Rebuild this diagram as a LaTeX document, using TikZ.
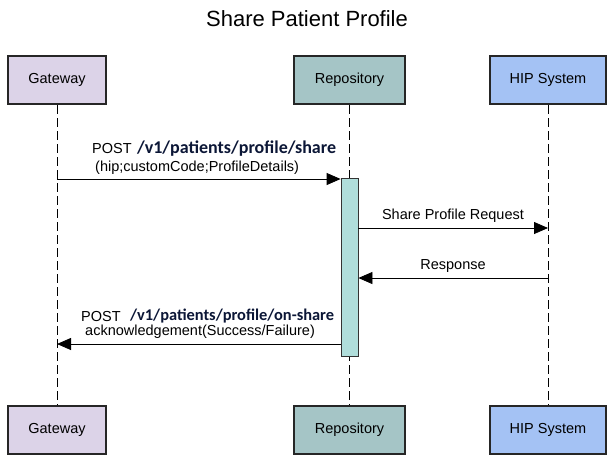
\documentclass[tikz,border=0pt]{standalone}
\usepackage{fontspec}
\setmainfont{Liberation Sans}
\newfontfamily\pathfont{Carlito}
\usetikzlibrary{arrows.meta,positioning}

\definecolor{gwfill}{HTML}{DCD3E8}
\definecolor{repofill}{HTML}{A5C5C6}
\definecolor{hipfill}{HTML}{A4C2F4}
\definecolor{actfill}{HTML}{B0DEDB}
\definecolor{pathcol}{HTML}{0B1636}

\tikzset{
    actor/.style={draw=black!85, line width=2pt, minimum height=48pt,
        font=\fontsize{14.5}{17}\selectfont, inner sep=0pt},
    life/.style={draw=black, dash pattern=on 9pt off 4pt, line width=0.6pt},
    msg/.style={draw=black, line width=0.8pt, -{Triangle[length=14pt,width=12pt]}},
    lbl/.style={font=\fontsize{14.5}{17}\selectfont, inner sep=0pt},
    apath/.style={font=\pathfont\bfseries\fontsize{18}{20}\selectfont, text=pathcol, inner sep=0pt}
}

\begin{document}
\begin{tikzpicture}[x=1pt, y=-1pt]

	\useasboundingbox (0,0) rectangle (615,467);

	\node[font=\fontsize{22}{26}\selectfont] (title) at (307,19) {Share Patient Profile};

	% participants, top and bottom
	\node[actor, fill=gwfill, minimum width=98pt] (gw) at (57,80) {Gateway};
	\node[actor, fill=repofill, minimum width=111pt] (repo) at (349.5,80) {Repository};
	\node[actor, fill=hipfill, minimum width=116pt] (hip) at (548,80) {HIP System};

	\node[actor, fill=gwfill, minimum width=98pt] (gwb) at (57,430) {Gateway};
	\node[actor, fill=repofill, minimum width=111pt] (repob) at (349.5,430) {Repository};
	\node[actor, fill=hipfill, minimum width=116pt] (hipb) at (548,430) {HIP System};

	% lifelines
	\draw[life] (gw) -- (gwb);
	\draw[life] (repo) -- (repob);
	\draw[life] (hip) -- (hipb);

	% activation of the repository
	\node[draw=black!80, line width=0.8pt, fill=actfill, minimum width=17pt,
	      minimum height=178pt, inner sep=0pt] (act) at (349.5,267) {};

	% message ends
	\coordinate (m1s) at (gw.south |- 0,179);
	\coordinate (m1e) at (act.west |- 0,179);
	\coordinate (m2s) at (act.east |- 0,228);
	\coordinate (m2e) at (hip.south |- 0,228);
	\coordinate (m3s) at (hip.south |- 0,278);
	\coordinate (m3e) at (act.east |- 0,278);
	\coordinate (m4s) at (act.west |- 0,344);
	\coordinate (m4e) at (gw.south |- 0,344);

	\draw[msg] (m1s) -- (m1e);
	\draw[msg] (m2s) -- (m2e);
	\draw[msg] (m3s) -- (m3e);
	\draw[msg] (m4s) -- (m4e);

	% labels
	\node[lbl, anchor=west] (l1a) at (92,149) {POST};
	\node[apath, anchor=west, right=5pt of l1a.east] (l1p) {/v1/patients/profile/share};
	\node[lbl, anchor=west] (l1b) at (95,168) {(hip;customCode;ProfileDetails)};

	\node[lbl] (l2) at (453,216) {Share Profile Request};
	\node[lbl] (l3) at (453,266) {Response};

	\node[lbl, anchor=west] (l4a) at (81,316) {POST};
	\node[apath, anchor=west, right=9pt of l4a.east, font=\pathfont\bfseries\fontsize{16.4}{18}\selectfont] (l4p) {/v1/patients/profile/on-share};
	\node[lbl, anchor=west] (l4b) at (85,332) {acknowledgement(Success/Failure)};

\end{tikzpicture}
\end{document}
